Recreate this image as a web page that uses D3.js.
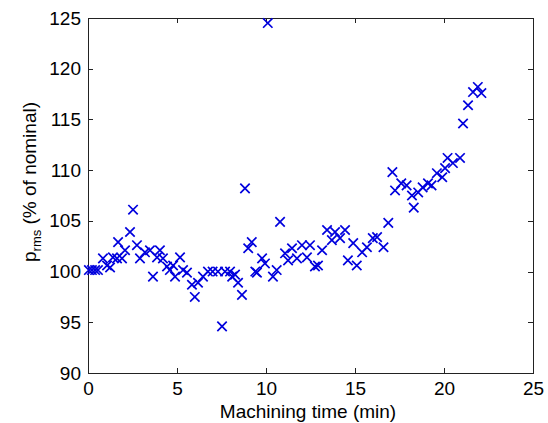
<!DOCTYPE html>
<html><head><meta charset="utf-8">
<script src="https://cdn.jsdelivr.net/npm/d3@7"></script>
<style>body{margin:0;background:#fff;}svg{display:block;}text{font-family:Arial,"Liberation Sans",sans-serif;fill:#000;}</style>
</head><body><svg id="c" width="548" height="423"></svg>
<script>
const timeMin = [0.05,0.22,0.4,0.56,0.84,1.07,1.24,1.4,1.63,1.69,1.91,2.08,2.36,2.53,2.75,2.92,3.2,3.48,3.65,3.88,4.04,4.21,4.44,4.6,4.78,4.89,5.17,5.34,5.56,5.84,6.0,6.18,6.46,6.74,7.0,7.3,7.53,7.7,7.98,8.1,8.26,8.43,8.65,8.82,9.0,9.2,9.4,9.49,9.78,9.94,10.1,10.39,10.6,10.79,11.07,11.24,11.46,11.74,12.02,12.3,12.47,12.75,12.92,13.15,13.43,13.7,13.88,14.16,14.44,14.6,14.9,15.1,15.4,15.67,16.0,16.24,16.6,16.87,17.1,17.25,17.6,17.9,18.2,18.3,18.55,18.8,19.1,19.3,19.6,19.9,20.06,20.2,20.5,20.9,21.07,21.35,21.63,21.9,22.1];
const prmsPct = [100.15,100.15,100.15,100.15,101.3,100.6,100.4,101.4,101.3,102.9,101.3,102.1,103.9,106.1,102.6,101.3,101.9,102.1,99.5,101.4,102.1,101.3,100.5,100.15,100.6,99.5,101.4,100.15,99.9,98.7,97.5,98.9,99.5,100,100,100,94.6,100,100,99.5,99.7,98.9,97.7,108.2,102.3,102.9,100,99.9,101.3,100.8,124.5,99.5,100.15,104.9,101.8,101.1,102.3,101.3,102.6,101.4,102.6,100.5,100.6,102.1,104.1,103.1,103.9,103.3,104.1,101.1,102.8,100.6,101.9,102.4,103.3,103.4,102.4,104.8,109.8,108.0,108.7,108.5,107.5,106.3,107.8,108.3,108.7,108.5,109.7,109.3,110.2,111.2,110.7,111.2,114.6,116.4,117.7,118.2,117.6];
const xTicks = [0,5,10,15,20,25];
const yTicks = [90,95,100,105,110,115,120,125];

const svg = d3.select("#c");
const L=88, R=533, T=18, B=373;
const x = d3.scaleLinear().domain([0,25]).range([L,R]);
const y = d3.scaleLinear().domain([90,125]).range([B,T]);
const tk = 5, axCol = "#222";

const g = svg.append("g");
g.append("rect").attr("x",L).attr("y",T).attr("width",R-L).attr("height",B-T)
 .attr("fill","none").attr("stroke",axCol).attr("stroke-width",1).attr("shape-rendering","crispEdges");

const xb = d3.axisBottom(x).tickValues(xTicks).tickSize(-tk).tickPadding(9).tickFormat(d3.format("d"));
const xt = d3.axisTop(x).tickValues(xTicks).tickSize(-tk).tickFormat("");
const yl = d3.axisLeft(y).tickValues(yTicks).tickSize(-tk).tickPadding(7).tickFormat(d3.format("d"));
const yr = d3.axisRight(y).tickValues(yTicks).tickSize(-tk).tickFormat("");

function style(sel){
  sel.select(".domain").remove();
  sel.selectAll("line").attr("stroke",axCol).attr("shape-rendering","crispEdges");
  sel.selectAll("text").attr("font-size",19).attr("fill","#000").style("font-family","Arial, 'Liberation Sans', sans-serif");
}
g.append("g").attr("transform",`translate(0,${B})`).call(xb).call(style);
g.append("g").attr("transform",`translate(0,${T})`).call(xt).call(style);
g.append("g").attr("transform",`translate(${L},0)`).call(yl).call(style);
g.append("g").attr("transform",`translate(${R},0)`).call(yr).call(style);

const s = 4.7;
const pts = g.append("g").attr("stroke","#0000dd").attr("stroke-width",1.7).attr("fill","none");
timeMin.forEach((t,i)=>{
  const cx=x(t), cy=y(prmsPct[i]);
  pts.append("path").attr("d",`M${cx-s},${cy-s}L${cx+s},${cy+s}M${cx-s},${cy+s}L${cx+s},${cy-s}`);
});

svg.append("text").attr("x",308).attr("y",418).attr("text-anchor","middle").attr("font-size",19)
  .text("Machining time (min)");
const yt = svg.append("text").attr("transform",`translate(36,182) rotate(-90)`).attr("text-anchor","middle").attr("font-size",19);
yt.append("tspan").text("p");
yt.append("tspan").attr("font-size",13).attr("dy",5).text("rms");
yt.append("tspan").attr("dy",-5).text(" (% of nominal)");
</script></body></html>
